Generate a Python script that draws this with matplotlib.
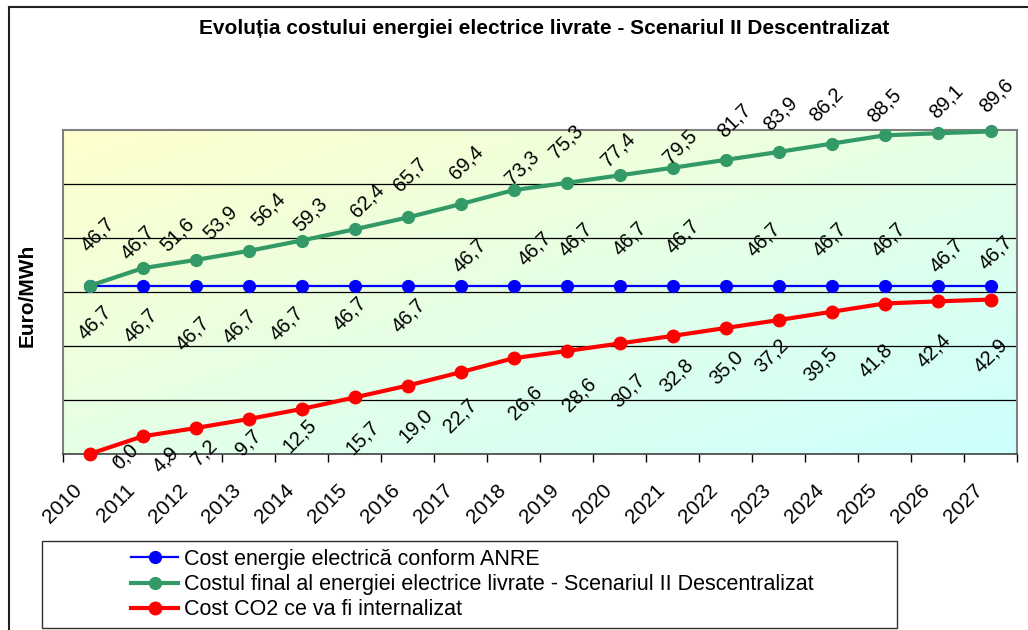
import numpy as np
import matplotlib
matplotlib.use('Agg')
import matplotlib.pyplot as plt
import matplotlib.transforms as mtransforms
from matplotlib.lines import Line2D
from matplotlib.patches import Rectangle
from matplotlib.ticker import FixedLocator

plt.rcParams['font.family'] = ['Liberation Sans', 'DejaVu Sans']

years = ['2010', '2011', '2012', '2013', '2014', '2015', '2016', '2017', '2018',
         '2019', '2020', '2021', '2022', '2023', '2024', '2025', '2026', '2027']
cost_anre = [46.7, 46.7, 46.7, 46.7, 46.7, 46.7, 46.7, 46.7, 46.7,
             46.7, 46.7, 46.7, 46.7, 46.7, 46.7, 46.7, 46.7, 46.7]
cost_final = [46.7, 51.6, 53.9, 56.4, 59.3, 62.4, 65.7, 69.4, 73.3,
              75.3, 77.4, 79.5, 81.7, 83.9, 86.2, 88.5, 89.1, 89.6]
cost_co2 = [0.0, 4.9, 7.2, 9.7, 12.5, 15.7, 19.0, 22.7, 26.6,
            28.6, 30.7, 32.8, 35.0, 37.2, 39.5, 41.8, 42.4, 42.9]

name_anre = 'Cost energie electrică conform ANRE'
name_final = 'Costul final al energiei electrice livrate - Scenariul II Descentralizat'
name_co2 = 'Cost CO2 ce va fi internalizat'
title = 'Evoluția costului energiei electrice livrate - Scenariul II Descentralizat'

# data label offsets in pixels (dx to the right, dy downwards), hand-dragged in the original
anre_off = [(5.5, 38), (-1.5, 41), (-2.5, 49), (-8.5, 42), (-14.5, 39), (-4.5, 29),
            (1.5, 31), (9.5, -29), (21.5, -36), (9.5, -45), (10, -46), (10.5, -48),
            (-587.5, -42), (-14.5, -45), (-1.5, -45), (4.5, -45), (9.5, -29), (5.5, -32)]
final_off = [(8.5, -50), (34.5, -33), (24.5, -36), (19.5, -40), (8.5, -25.5), (12.5, -27.4),
             (2.5, -41.5), (5.5, -41), (8.5, -22), (0, -40), (-1, -25), (8, -20),
             (9, -38), (2, -37), (-5, -38), (0, -29), (9, -31), (6, -35)]
co2_off = [(35.5, 4), (23.5, 23.6), (8.5, 25), (-0.5, 24), (-1.5, 28), (8.5, 41.5),
           (8.5, 41.4), (-0.5, 44.7), (11.5, 44.8), (12.5, 44), (8.5, 48.5), (3.5, 41),
           (1, 41), (-7.5, 36), (-11, 54), (-8.5, 57.5), (-3.5, 50.6), (0, 57.4)]

W, H = 1028, 630
fig = plt.figure(figsize=(W / 100, H / 100), dpi=100)
ax = fig.add_axes([63 / W, 1 - 454 / H, 954 / W, 324 / H])

# diagonal gradient fill of the plot area (yellow -> cyan)
gx, gy = np.meshgrid(np.linspace(0, 1, 300), np.linspace(0, 1, 120))
t = (gx + gy) / 2
c0 = np.array([1.0, 1.0, 0.80])
c1 = np.array([0.80, 1.0, 1.0])
img = c0 + t[..., None] * (c1 - c0)
ax.imshow(img, extent=[0, 1, 0, 1], transform=ax.transAxes, aspect='auto',
          origin='upper', zorder=0, interpolation='bilinear')

x = np.arange(len(years))
ax.plot(x, cost_anre, color='#0000FF', lw=1.6, marker='o', ms=8.5, label=name_anre,
        zorder=3, clip_on=False)
ax.plot(x, cost_final, color='#339966', lw=3, marker='o', ms=8.5, label=name_final,
        zorder=4, clip_on=False)
ax.plot(x, cost_co2, color='#FF0000', lw=3, marker='o', ms=9, label=name_co2,
        zorder=3, clip_on=False)

ax.set_xlim(-0.5, len(years) - 0.5)
ax.set_ylim(0, 90)

def fmt(v):
    return ('%.1f' % v).replace('.', ',')

for vals, offs in [(cost_anre, anre_off), (cost_final, final_off), (cost_co2, co2_off)]:
    for i, v in enumerate(vals):
        dx, dy = offs[i]
        ax.annotate(fmt(v), (x[i], v), xytext=(dx, -dy + 1), textcoords='offset pixels',
                    rotation=45, ha='center', va='center', fontsize=14.5, zorder=5,
                    annotation_clip=False)

# grid and axes
ax.yaxis.set_major_locator(FixedLocator([15, 30, 45, 60, 75]))
ax.grid(axis='y', color='black', lw=0.9)
ax.set_axisbelow(True)
ax.tick_params(axis='y', length=0, labelleft=False)

ax.set_xticks(x)
ax.set_xticklabels(years, rotation=45, ha='right', va='top', fontsize=15)
ax.set_xticks(np.arange(-0.5, len(years), 1), minor=True)
ax.tick_params(axis='x', which='major', length=0, pad=19)
ax.tick_params(axis='x', which='minor', length=6, width=1, color='black', direction='out')
shift = mtransforms.ScaledTranslation(-0.04, 0, fig.dpi_scale_trans)
for lbl in ax.get_xticklabels():
    lbl.set_transform(lbl.get_transform() + shift)

for s in ['left', 'top', 'right']:
    ax.spines[s].set_color('#808080')
    ax.spines[s].set_linewidth(1.5)
ax.spines['bottom'].set_color('#404040')
ax.spines['bottom'].set_linewidth(1.2)

fig.text(544 / W, 1 - 28 / H, title, ha='center', va='center', fontsize=15, weight='bold')
fig.text(27 / W, 1 - 295 / H, 'Euro/MWh', rotation=90, ha='center', va='center',
         fontsize=15, weight='bold')

# outer chart frame (left and top edges visible)
fig.add_artist(Line2D([9 / W, 9 / W], [0, 1 - 7 / H], transform=fig.transFigure,
                      color='#202020', lw=1.5))
fig.add_artist(Line2D([9 / W, 1], [1 - 7 / H, 1 - 7 / H], transform=fig.transFigure,
                      color='#202020', lw=1.5))

# legend
fig.legend(loc='upper left', bbox_to_anchor=(131 / W, 1 - 549 / H), frameon=False,
           fontsize=15.5, handlelength=2.2, handletextpad=0.25, labelspacing=0.19,
           borderpad=0, borderaxespad=0)
fig.add_artist(Rectangle((42 / W, 1 - 628 / H), 855 / W, 87 / H, transform=fig.transFigure,
                         fill=False, ec='#303030', lw=1))

fig.savefig('out.png', dpi=100)
